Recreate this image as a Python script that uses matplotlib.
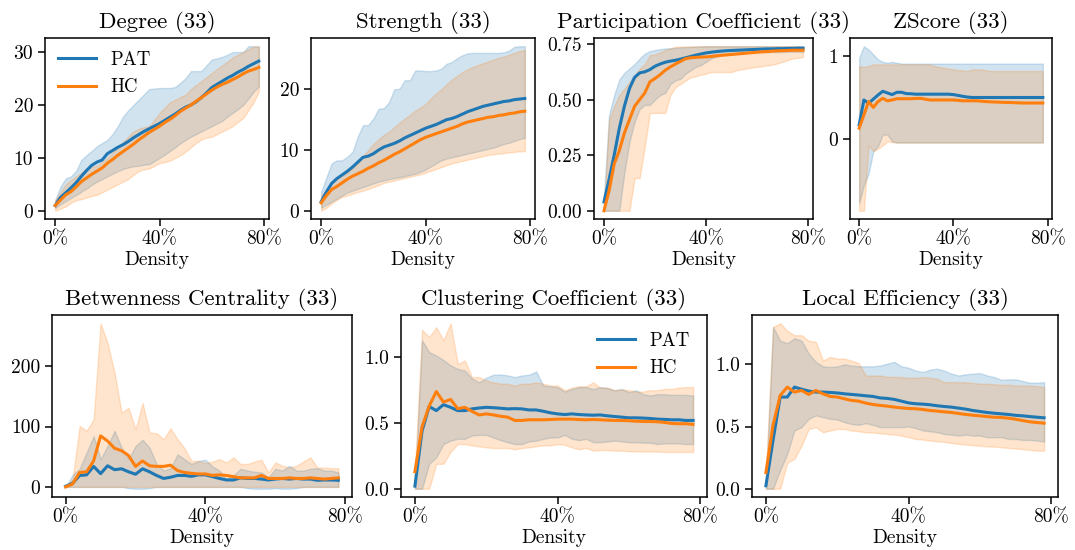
import numpy as np
import matplotlib
matplotlib.use("Agg")
import matplotlib.pyplot as plt
from matplotlib.ticker import FuncFormatter

plt.rcParams['font.family'] = ['cmr10', 'DejaVu Serif']
plt.rcParams['axes.formatter.use_mathtext'] = True
plt.rcParams['mathtext.fontset'] = 'cm'

density = [round(0.02 * i, 2) for i in range(40)]

# ---------------- Degree ----------------
degree_pat = [1.0, 2.5, 3.4, 4.3, 5.3, 6.5, 7.6, 8.6, 9.2, 9.6, 10.8, 11.4, 12.0, 12.5, 13.1, 13.8, 14.4, 15.0, 15.5, 16.0,
              16.5, 17.1, 17.7, 18.3, 19.0, 19.6, 20.0, 20.6, 21.4, 22.3, 23.3, 23.9, 24.5, 25.1, 25.6, 26.2, 26.7, 27.3, 27.8, 28.3]
degree_pat_lo = [0.5, 1.2, 1.8, 2.4, 3.0, 3.6, 4.2, 4.9, 5.5, 6.0, 6.5, 7.0, 7.5, 7.9, 8.2, 8.4, 8.5, 8.7, 8.8, 9.4,
                 10.0, 10.6, 11.3, 12.0, 12.8, 13.4, 14.0, 14.5, 15.0, 15.5, 16.0, 16.5, 17.0, 17.8, 18.5, 19.2, 20.0, 21.2, 22.5, 23.5]
degree_pat_hi = [2.0, 4.5, 6.1, 6.5, 7.5, 9.6, 10.5, 11.3, 12.2, 12.8, 13.4, 14.5, 16.0, 17.8, 19.0, 20.0, 21.0, 22.0, 23.0, 23.1,
                 23.2, 23.2, 23.2, 23.4, 24.2, 25.1, 26.4, 26.4, 26.4, 27.5, 28.6, 28.8, 29.1, 29.5, 30.0, 30.0, 30.0, 31.1, 31.1, 31.1]
degree_hc = [1.0, 2.0, 3.0, 3.6, 4.5, 5.5, 6.2, 6.9, 7.5, 8.1, 9.0, 9.7, 10.5, 11.2, 11.9, 12.6, 13.4, 14.1, 14.8, 15.4,
             16.0, 16.7, 17.3, 18.0, 18.8, 19.4, 20.0, 20.7, 21.4, 22.1, 22.8, 23.4, 23.9, 24.3, 24.8, 25.3, 25.9, 26.4, 26.7, 27.1]
degree_hc_lo = [0.0, 0.4, 0.8, 1.5, 2.0, 2.2, 2.5, 2.8, 3.0, 3.5, 4.0, 4.5, 5.0, 5.5, 6.0, 6.8, 7.5, 7.8, 8.0, 8.5,
                9.0, 9.2, 9.5, 10.0, 10.5, 11.2, 12.0, 12.8, 13.5, 13.8, 14.0, 14.5, 15.0, 15.5, 16.0, 16.8, 17.5, 19.0, 20.5, 22.5]
degree_hc_hi = [2.0, 3.5, 5.0, 5.8, 6.5, 7.2, 8.0, 8.3, 8.5, 9.2, 10.0, 11.0, 12.0, 13.0, 14.0, 15.0, 15.5, 15.8, 16.0, 17.2,
                18.5, 19.5, 20.5, 21.0, 21.5, 22.0, 23.0, 23.8, 24.5, 25.3, 26.0, 26.8, 27.5, 28.2, 29.0, 29.5, 30.0, 30.5, 31.0, 31.0]

# ---------------- Strength ----------------
strength_pat = [1.5, 3.1, 4.5, 5.3, 5.9, 6.5, 7.2, 8.0, 8.8, 9.0, 9.4, 10.0, 10.5, 10.8, 11.1, 11.5, 12.0, 12.4, 12.8, 13.2,
                13.6, 13.9, 14.2, 14.6, 15.0, 15.2, 15.5, 15.9, 16.3, 16.6, 16.9, 17.2, 17.4, 17.6, 17.8, 18.0, 18.1, 18.3, 18.4, 18.5]
strength_pat_lo = [0.5, 1.0, 1.5, 2.0, 2.5, 3.0, 3.3, 3.6, 3.9, 4.2, 4.5, 4.8, 5.0, 5.2, 5.4, 5.5, 5.7, 5.9, 6.1, 6.4,
                   6.8, 7.3, 7.8, 8.3, 8.6, 8.8, 9.0, 9.2, 9.4, 9.6, 9.8, 10.0, 10.2, 10.4, 10.7, 11.0, 11.2, 11.5, 11.8, 12.0]
strength_pat_hi = [3.1, 5.5, 7.8, 8.3, 8.3, 8.9, 9.7, 12.2, 14.1, 14.1, 15.2, 16.8, 16.9, 17.9, 20.0, 20.1, 21.5, 21.5, 23.1, 23.1,
                   23.0, 23.0, 23.1, 23.4, 24.2, 24.5, 25.1, 25.6, 25.9, 26.0, 26.0, 26.0, 26.0, 26.0, 26.0, 26.1, 26.4, 27.0, 27.1, 27.1]
strength_hc = [1.3, 2.5, 3.5, 4.0, 4.6, 5.2, 5.7, 6.1, 6.5, 7.0, 7.4, 7.9, 8.3, 8.8, 9.3, 9.7, 10.2, 10.7, 11.2, 11.7,
               12.1, 12.4, 12.7, 13.0, 13.3, 13.6, 13.9, 14.3, 14.6, 14.8, 15.0, 15.2, 15.4, 15.5, 15.7, 15.8, 16.0, 16.1, 16.3, 16.4]
strength_hc_lo = [0.0, 0.5, 1.2, 1.8, 2.3, 2.5, 2.8, 3.1, 3.3, 3.6, 3.9, 4.2, 4.6, 4.8, 5.0, 5.2, 5.4, 5.6, 5.8, 6.0,
                  6.3, 6.6, 6.9, 7.2, 7.5, 7.8, 8.0, 8.2, 8.4, 8.6, 8.8, 9.0, 9.2, 9.3, 9.4, 9.5, 9.6, 9.7, 9.8, 9.8]
strength_hc_hi = [2.5, 3.5, 4.6, 5.3, 5.8, 6.3, 7.0, 7.8, 9.0, 10.0, 11.0, 11.8, 12.5, 13.0, 13.8, 14.5, 15.2, 15.8, 16.5, 17.0,
                  17.6, 18.5, 19.3, 20.0, 20.8, 21.6, 22.2, 22.8, 23.3, 23.7, 24.0, 24.3, 24.6, 24.9, 25.2, 25.4, 25.7, 26.0, 26.3, 26.5]

# ---------------- Participation Coefficient ----------------
part_pat = [0.04, 0.14, 0.25, 0.37, 0.47, 0.55, 0.60, 0.62, 0.625, 0.635, 0.65, 0.66, 0.668, 0.673, 0.677, 0.682, 0.688, 0.694, 0.70, 0.705,
            0.71, 0.713, 0.716, 0.718, 0.72, 0.721, 0.722, 0.723, 0.724, 0.725, 0.726, 0.727, 0.728, 0.728, 0.729, 0.729, 0.730, 0.730, 0.731, 0.731]
part_pat_lo = [0.0, 0.0, 0.0, 0.0, 0.17, 0.31, 0.40, 0.457, 0.476, 0.476, 0.50, 0.52, 0.53, 0.57, 0.586, 0.594, 0.617, 0.632, 0.647, 0.655,
               0.67, 0.685, 0.692, 0.70, 0.705, 0.708, 0.71, 0.71, 0.711, 0.712, 0.712, 0.713, 0.713, 0.714, 0.714, 0.714, 0.715, 0.715, 0.715, 0.715]
part_pat_hi = [0.064, 0.43, 0.52, 0.59, 0.62, 0.64, 0.66, 0.685, 0.707, 0.718, 0.723, 0.727, 0.73, 0.731, 0.733, 0.735, 0.736, 0.737, 0.738, 0.739,
               0.74, 0.74, 0.74, 0.74, 0.74, 0.74, 0.74, 0.74, 0.74, 0.74, 0.74, 0.74, 0.74, 0.74, 0.74, 0.74, 0.74, 0.74, 0.74, 0.74]
part_hc = [0.0, 0.09, 0.21, 0.27, 0.35, 0.41, 0.47, 0.50, 0.53, 0.58, 0.595, 0.612, 0.632, 0.647, 0.66, 0.672, 0.684, 0.688, 0.69, 0.691,
           0.692, 0.694, 0.697, 0.699, 0.701, 0.703, 0.705, 0.707, 0.709, 0.711, 0.713, 0.715, 0.716, 0.718, 0.719, 0.720, 0.721, 0.722, 0.722, 0.722]
part_hc_lo = [0.0, 0.0, 0.0, 0.0, 0.0, 0.0, 0.147, 0.147, 0.29, 0.44, 0.44, 0.44, 0.44, 0.52, 0.556, 0.57, 0.586, 0.60, 0.605, 0.612,
              0.617, 0.624, 0.624, 0.624, 0.624, 0.624, 0.632, 0.636, 0.64, 0.644, 0.647, 0.65, 0.654, 0.657, 0.663, 0.67, 0.677, 0.685, 0.688, 0.692]
part_hc_hi = [0.0, 0.41, 0.47, 0.52, 0.55, 0.58, 0.61, 0.64, 0.66, 0.70, 0.703, 0.712, 0.723, 0.73, 0.738, 0.738, 0.739, 0.739, 0.74, 0.74,
              0.74, 0.74, 0.74, 0.74, 0.74, 0.74, 0.74, 0.74, 0.74, 0.74, 0.74, 0.74, 0.74, 0.74, 0.74, 0.74, 0.74, 0.74, 0.74, 0.74]

# ---------------- ZScore ----------------
z_pat = [0.17, 0.47, 0.43, 0.48, 0.53, 0.575, 0.555, 0.535, 0.563, 0.563, 0.547, 0.545, 0.54, 0.54, 0.54, 0.54, 0.54, 0.54, 0.54, 0.54,
         0.535, 0.525, 0.514, 0.505, 0.50, 0.50, 0.50, 0.50, 0.50, 0.50, 0.50, 0.50, 0.50, 0.50, 0.50, 0.50, 0.50, 0.50, 0.50, 0.50]
z_pat_lo = [-0.78, -0.56, -0.42, -0.15, -0.09, 0.05, 0.05, -0.03, -0.045, -0.045, -0.045, -0.045, -0.045, -0.045, -0.045, -0.045, -0.045, -0.045, -0.045, -0.045,
            -0.045, -0.045, -0.045, -0.045, -0.045, -0.045, -0.045, -0.045, -0.045, -0.045, -0.045, -0.045, -0.045, -0.045, -0.045, -0.045, -0.045, -0.045, -0.045, -0.045]
z_pat_hi = [0.98, 1.12, 1.08, 1.02, 0.96, 0.93, 0.92, 0.93, 0.92, 0.91, 0.91, 0.91, 0.91, 0.91, 0.91, 0.91, 0.91, 0.91, 0.91, 0.91,
            0.91, 0.91, 0.91, 0.91, 0.91, 0.91, 0.91, 0.91, 0.91, 0.91, 0.91, 0.91, 0.91, 0.91, 0.91, 0.91, 0.91, 0.91, 0.91, 0.91]
z_hc = [0.13, 0.29, 0.45, 0.38, 0.45, 0.49, 0.46, 0.47, 0.485, 0.485, 0.485, 0.485, 0.488, 0.49, 0.48, 0.47, 0.47, 0.47, 0.47, 0.47,
        0.47, 0.465, 0.46, 0.46, 0.46, 0.46, 0.455, 0.45, 0.447, 0.445, 0.443, 0.44, 0.44, 0.437, 0.435, 0.433, 0.433, 0.433, 0.433, 0.433]
z_hc_lo = [-0.87, -0.87, -0.08, -0.15, -0.12, -0.08, -0.03, -0.04, -0.045, -0.045, -0.045, -0.045, -0.045, -0.045, -0.045, -0.045, -0.045, -0.045, -0.045, -0.045,
           -0.045, -0.045, -0.045, -0.045, -0.045, -0.045, -0.045, -0.045, -0.045, -0.045, -0.045, -0.045, -0.045, -0.045, -0.045, -0.045, -0.045, -0.045, -0.045, -0.045]
z_hc_hi = [0.88, 0.87, 0.88, 0.90, 0.90, 0.90, 0.90, 0.90, 0.90, 0.90, 0.90, 0.90, 0.90, 0.90, 0.90, 0.90, 0.88, 0.87, 0.86, 0.85,
           0.84, 0.83, 0.83, 0.82, 0.84, 0.84, 0.84, 0.83, 0.82, 0.82, 0.82, 0.82, 0.82, 0.82, 0.82, 0.82, 0.82, 0.82, 0.82, 0.82]

# ---------------- Betweenness Centrality ----------------
btw_pat = [1, 6, 19, 20, 34, 22, 35, 28.5, 30, 25, 21, 30, 25, 19, 14, 16, 19, 19, 17.5, 20,
           20, 17, 14, 11.5, 11.5, 15, 14, 14, 13, 11.5, 13, 14, 13, 14, 13, 13, 11, 11.5, 11.5, 11]
btw_pat_lo = [0, 0, 0, 0, 0, 0, 0, 0, 0, -2, -3, -3, -2, 0, 0, 0, 0, 0, 0, 0,
              0, 0, 0, 0, 0, 0, -2, -3, -3, -3, -2, -3, -3, -2, 0, 0, 0, 0, 0, 0]
btw_pat_hi = [0, 20, 30, 57, 84, 46, 68, 93, 65, 46, 68, 78, 65, 38, 27, 31, 54, 46, 38, 43,
              45, 34, 27, 13, 19, 30, 27, 25, 24, 16, 30, 27, 35, 27, 27, 30, 31, 27, 27, 24]
btw_hc = [0, 5, 24, 25, 43, 84.5, 76, 64, 60, 52, 34, 43, 35, 34, 34, 36, 27, 24, 22.5, 21.5,
          21.5, 19, 20, 19, 17, 15, 15, 15, 19, 14, 14, 14, 15, 14, 14, 15, 14, 13, 14, 15]
btw_hc_lo = [0, 0, 0, 0, 0, 0, 0, 0, 0, 0, 0, 0, 0, 0, 0, 0, 0, 0, 0, 0,
             0, 0, 0, 0, 0, 0, 0, 0, 0, 0, 0, 0, 0, 0, 0, 0, 0, 0, 0, 0]
btw_hc_hi = [0, 13, 101, 93, 112, 271, 238, 189, 123, 131, 95, 139, 90, 89, 79, 97, 79, 64, 43, 43,
             39.5, 42, 46, 40.5, 49, 38, 38, 42, 45, 24, 40.5, 35, 32, 35, 42, 49, 32, 32, 31, 31]

# ---------------- Clustering Coefficient ----------------
clu_pat = [0.02, 0.44, 0.626, 0.595, 0.64, 0.62, 0.595, 0.595, 0.608, 0.615, 0.62, 0.617, 0.613, 0.608, 0.61, 0.608, 0.60, 0.60, 0.59, 0.578,
           0.57, 0.565, 0.57, 0.565, 0.562, 0.56, 0.562, 0.555, 0.55, 0.545, 0.54, 0.54, 0.538, 0.535, 0.53, 0.528, 0.525, 0.525, 0.52, 0.52]
clu_pat_lo = [0.0, 0.0, 0.19, 0.24, 0.34, 0.366, 0.38, 0.38, 0.405, 0.41, 0.41, 0.39, 0.37, 0.354, 0.34, 0.34, 0.36, 0.366, 0.38, 0.39,
              0.39, 0.41, 0.38, 0.37, 0.38, 0.354, 0.354, 0.36, 0.366, 0.36, 0.354, 0.354, 0.35, 0.35, 0.34, 0.345, 0.345, 0.345, 0.34, 0.34]
clu_pat_hi = [0.03, 1.13, 1.04, 1.015, 0.98, 0.94, 0.913, 0.90, 0.84, 0.81, 0.845, 0.868, 0.87, 0.863, 0.85, 0.863, 0.868, 0.893, 0.786, 0.78,
              0.774, 0.74, 0.76, 0.774, 0.774, 0.76, 0.774, 0.766, 0.75, 0.76, 0.735, 0.75, 0.72, 0.71, 0.72, 0.72, 0.715, 0.715, 0.715, 0.71]
clu_hc = [0.13, 0.47, 0.63, 0.74, 0.66, 0.68, 0.61, 0.62, 0.59, 0.562, 0.57, 0.562, 0.552, 0.545, 0.52, 0.52, 0.525, 0.525, 0.525, 0.527,
          0.53, 0.53, 0.53, 0.527, 0.525, 0.527, 0.525, 0.522, 0.52, 0.52, 0.518, 0.514, 0.512, 0.512, 0.51, 0.505, 0.497, 0.495, 0.495, 0.49]
clu_hc_lo = [0.0, 0.0, 0.0, 0.19, 0.19, 0.28, 0.34, 0.34, 0.33, 0.323, 0.315, 0.31, 0.31, 0.31, 0.30, 0.31, 0.315, 0.323, 0.33, 0.33,
             0.34, 0.335, 0.315, 0.30, 0.31, 0.29, 0.295, 0.295, 0.29, 0.29, 0.285, 0.285, 0.283, 0.283, 0.283, 0.28, 0.28, 0.28, 0.28, 0.28]
clu_hc_hi = [0.14, 1.21, 1.155, 1.23, 1.13, 1.26, 0.95, 0.977, 0.85, 0.85, 0.824, 0.81, 0.80, 0.80, 0.786, 0.80, 0.80, 0.81, 0.80, 0.786,
             0.786, 0.75, 0.77, 0.78, 0.78, 0.81, 0.77, 0.77, 0.75, 0.755, 0.75, 0.74, 0.74, 0.75, 0.75, 0.76, 0.76, 0.77, 0.774, 0.774]

# ---------------- Local Efficiency ----------------
le_pat = [0.024, 0.39, 0.737, 0.737, 0.817, 0.80, 0.785, 0.777, 0.777, 0.774, 0.77, 0.763, 0.758, 0.753, 0.747, 0.742, 0.73, 0.726, 0.718, 0.704,
          0.69, 0.683, 0.68, 0.675, 0.667, 0.661, 0.656, 0.648, 0.64, 0.629, 0.621, 0.613, 0.607, 0.602, 0.597, 0.59, 0.586, 0.58, 0.575, 0.57]
le_pat_lo = [0.0, 0.0, 0.15, 0.28, 0.468, 0.495, 0.562, 0.589, 0.575, 0.562, 0.556, 0.535, 0.52, 0.513, 0.527, 0.513, 0.495, 0.495, 0.495, 0.495,
             0.50, 0.487, 0.468, 0.462, 0.454, 0.44, 0.435, 0.427, 0.435, 0.427, 0.427, 0.414, 0.414, 0.414, 0.40, 0.40, 0.392, 0.392, 0.387, 0.379]
le_pat_hi = [0.03, 1.30, 1.19, 1.17, 1.21, 1.19, 1.086, 1.02, 0.984, 0.978, 0.984, 1.0, 0.99, 0.984, 0.984, 0.984, 0.99, 1.005, 1.02, 0.984,
             0.973, 0.95, 0.938, 0.957, 0.965, 0.95, 0.925, 0.91, 0.92, 0.925, 0.93, 0.91, 0.898, 0.876, 0.879, 0.879, 0.866, 0.852, 0.852, 0.857]
le_hc = [0.13, 0.51, 0.75, 0.817, 0.777, 0.79, 0.758, 0.79, 0.763, 0.742, 0.737, 0.723, 0.71, 0.704, 0.688, 0.677, 0.67, 0.664, 0.656, 0.65,
         0.645, 0.643, 0.637, 0.629, 0.624, 0.618, 0.613, 0.605, 0.597, 0.591, 0.586, 0.58, 0.575, 0.573, 0.567, 0.559, 0.548, 0.538, 0.532, 0.527]
le_hc_lo = [0.0, 0.0, 0.0, 0.21, 0.24, 0.347, 0.48, 0.495, 0.454, 0.468, 0.48, 0.48, 0.468, 0.462, 0.454, 0.452, 0.446, 0.44, 0.435, 0.427,
            0.414, 0.40, 0.395, 0.387, 0.382, 0.376, 0.368, 0.36, 0.355, 0.35, 0.345, 0.341, 0.338, 0.333, 0.328, 0.323, 0.318, 0.312, 0.306, 0.306]
le_hc_hi = [0.14, 1.30, 1.33, 1.27, 1.234, 1.234, 1.19, 1.18, 1.03, 1.06, 1.046, 1.046, 1.03, 1.01, 0.91, 0.91, 0.91, 0.90, 0.90, 0.898,
            0.892, 0.892, 0.898, 0.892, 0.884, 0.857, 0.857, 0.857, 0.855, 0.85, 0.844, 0.844, 0.84, 0.836, 0.836, 0.83, 0.83, 0.828, 0.825, 0.817]

titles = ['Degree (33)', 'Strength (33)', 'Participation Coefficient (33)', 'ZScore (33)',
          'Betwenness Centrality (33)', 'Clustering Coefficient (33)', 'Local Efficiency (33)']
group_labels = ['PAT', 'HC']
xtick_vals = [0.0, 0.4, 0.8]

panels = [
    (degree_pat, degree_pat_lo, degree_pat_hi, degree_hc, degree_hc_lo, degree_hc_hi),
    (strength_pat, strength_pat_lo, strength_pat_hi, strength_hc, strength_hc_lo, strength_hc_hi),
    (part_pat, part_pat_lo, part_pat_hi, part_hc, part_hc_lo, part_hc_hi),
    (z_pat, z_pat_lo, z_pat_hi, z_hc, z_hc_lo, z_hc_hi),
    (btw_pat, btw_pat_lo, btw_pat_hi, btw_hc, btw_hc_lo, btw_hc_hi),
    (clu_pat, clu_pat_lo, clu_pat_hi, clu_hc, clu_hc_lo, clu_hc_hi),
    (le_pat, le_pat_lo, le_pat_hi, le_hc, le_hc_lo, le_hc_hi),
]

W, H = 1075, 550
boxes_px = [  # left, top, right, bottom in pixels
    (45, 38, 269, 219), (311, 38, 535, 219), (594, 38, 813, 219), (850, 38, 1052, 219),
    (52, 315, 352, 497), (401, 315, 707, 497), (752, 315, 1058, 497),
]
yticks = [[0, 10, 20, 30], [0, 10, 20], [0.0, 0.25, 0.5, 0.75], [0, 1],
          [0, 100, 200], [0.0, 0.5, 1.0], [0.0, 0.5, 1.0]]
yfmt = ['{:.0f}', '{:.0f}', '{:.2f}', '{:.0f}', '{:.0f}', '{:.1f}', '{:.1f}']

colors = ['#1f77b4', '#ff7f0e']

fig = plt.figure(figsize=(W / 100, H / 100), dpi=100)
for k, (title, data, box) in enumerate(zip(titles, panels, boxes_px)):
    l, t, r, b = box
    ax = fig.add_axes([l / W, 1 - b / H, (r - l) / W, (b - t) / H])
    pm, plo, phi, hm, hlo, hhi = data
    ax.plot(density, pm, color=colors[0], lw=2.2, label=group_labels[0])
    ax.fill_between(density, plo, phi, color=colors[0], alpha=0.2)
    ax.plot(density, hm, color=colors[1], lw=2.2, label=group_labels[1])
    ax.fill_between(density, hlo, hhi, color=colors[1], alpha=0.2)
    ax.set_title(title, fontsize=16.5, pad=7)
    ax.set_xlabel('Density', fontsize=14, labelpad=1.5)
    ax.set_xticks(xtick_vals)
    ax.xaxis.set_major_formatter(FuncFormatter(lambda v, p: '{:.0f}%'.format(v * 100)))
    ax.set_yticks(yticks[k])
    fmt = yfmt[k]
    ax.yaxis.set_major_formatter(FuncFormatter(lambda v, p, fmt=fmt: fmt.format(v)))
    ax.tick_params(labelsize=14, length=5, width=1.1)
    for s in ax.spines.values():
        s.set_linewidth(1.1)
    if k == 0:
        ax.legend(loc='upper left', frameon=False, fontsize=13.5, borderaxespad=0.3)
    if k == 5:
        ax.legend(loc='upper right', frameon=False, fontsize=13.5)

fig.savefig('out.png', dpi=100)
